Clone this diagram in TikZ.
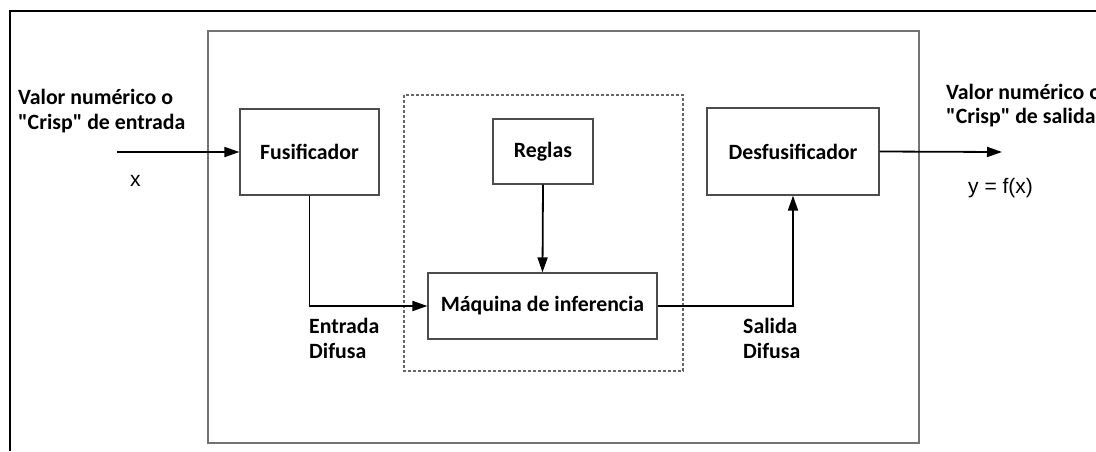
\documentclass[tikz,border=0pt]{standalone}
\usepackage{fontspec}
\setmainfont{Carlito}[Ligatures=TeXOff]
\newfontfamily\arialfont{Liberation Sans}[Ligatures=TeXOff]
\usetikzlibrary{arrows.meta}
\begin{document}
\begin{tikzpicture}[x=1pt,y=-1pt,
  lbl/.style={font=\fontsize{21.8}{26}\selectfont\bfseries, anchor=base west, inner sep=0pt},
  mathlbl/.style={font=\arialfont\fontsize{21}{25}\selectfont, anchor=base west, inner sep=0pt},
  blockbox/.style={draw=black!70, line width=1.2pt, fill=white, rectangle, inner sep=0pt,
    font=\fontsize{21.8}{26}\selectfont\bfseries},
  flow/.style={line width=1.8pt, -{Triangle[length=15pt,width=10pt]}},
]
\useasboundingbox (0,0) rectangle (1096,451);
% outer frame
\draw[line width=2pt] (10,451) -- (10,11) -- (1096,11);
% system box
\draw[draw=black!55, line width=1.5pt] (208,31) rectangle (919,443);
% inference group
\draw[draw=black!60, line width=1.2pt, dash pattern=on 3pt off 2pt] (404,95) rectangle (683,371);
% blocks
\node[blockbox, minimum width=139pt, minimum height=86pt] (fus) at (309.5,152) {Fusificador};
\node[blockbox, minimum width=100pt, minimum height=65pt] (reg) at (543,151.5) {Reglas};
\node[blockbox, minimum width=229pt, minimum height=66pt] (maq) at (542.5,306) {Máquina de inferencia};
\node[blockbox, minimum width=172pt, minimum height=87pt] (des) at (793,151.5) {Desfusificador};
% free ends
\coordinate (inStart) at (117,152);
\coordinate (outEnd) at (1002,152);
% connectors
\draw[flow] (inStart) -- (fus.west);
\draw[flow] (fus.south) |- (maq.west);
\draw[flow] (reg.south) -- (maq.north);
\draw[flow] (maq.east) -| (des.south);
\draw[flow] (des.east) -- (outEnd);
% labels
\node[lbl] (inA) at (18,104) {Valor numérico o};
\node[lbl] (inB) at (18,129) {"Crisp" de entrada};
\node[mathlbl] (xlbl) at (130,186) {x};
\node[lbl] (entA) at (309,333) {Entrada};
\node[lbl] (entB) at (309,358) {Difusa};
\node[lbl] (salA) at (743,333) {Salida};
\node[lbl] (salB) at (743,358) {Difusa};
\node[lbl] (outA) at (946,99) {Valor numérico o};
\node[lbl] (outB) at (946,123) {"Crisp" de salida};
\node[mathlbl] (ylbl) at (968,193) {y = f(x)};
\end{tikzpicture}
\end{document}
